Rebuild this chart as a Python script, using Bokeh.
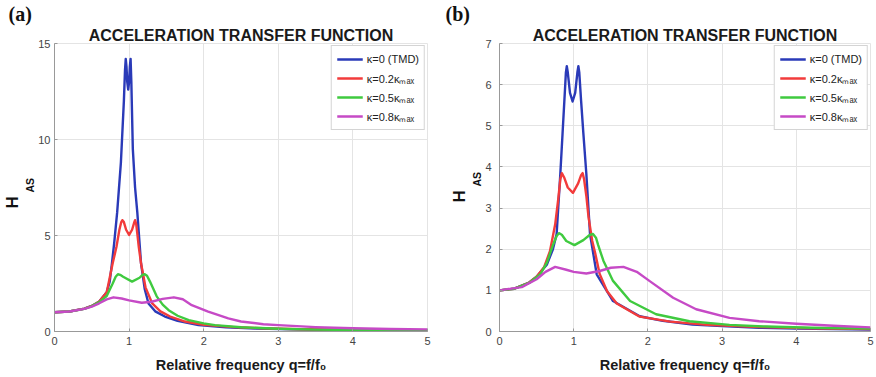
from bokeh.plotting import figure
from bokeh.models import Title, Legend, LegendItem, Range1d, FixedTicker
from bokeh.layouts import row
from bokeh.embed import file_html
from bokeh.resources import INLINE

# ---------------- data ----------------
x_ticks = [0, 1, 2, 3, 4, 5]
yticks_a = [0, 5, 10, 15]
yticks_b = [0, 1, 2, 3, 4, 5, 6, 7]
labels = ["κ=0 (TMD)", "κ=0.2κₘₐₓ", "κ=0.5κₘₐₓ", "κ=0.8κₘₐₓ"]

# Panel (a)
qa_k0 = [0, 0.2, 0.4, 0.5, 0.6, 0.7, 0.74, 0.77, 0.8, 0.84, 0.89, 0.93, 0.945, 0.955, 0.965, 0.975, 0.988,
         1.0, 1.01, 1.02, 1.03, 1.05, 1.08, 1.11, 1.16, 1.21, 1.26, 1.35, 1.48, 1.65, 1.93, 2.3, 2.7,
         3.2, 3.8, 4.4, 5.0]
ha_k0 = [1.0, 1.04, 1.19, 1.33, 1.56, 2.05, 2.6, 3.55, 4.6, 6.2, 8.8, 12.0, 13.6, 14.2, 13.8, 13.0, 12.6,
         13.0, 13.8, 14.2, 13.0, 9.5, 7.5, 6.2, 3.55, 2.2, 1.46, 1.05, 0.78, 0.55, 0.33, 0.22, 0.16,
         0.11, 0.08, 0.06, 0.05]

qa_k2 = [0, 0.2, 0.4, 0.5, 0.6, 0.7, 0.78, 0.83, 0.87, 0.895, 0.91, 0.93, 0.96, 1.0, 1.04, 1.07, 1.08,
         1.095, 1.11, 1.13, 1.16, 1.22, 1.31, 1.42, 1.55, 1.75, 2.0, 2.4, 2.8, 3.3, 3.9, 4.5, 5.0]
ha_k2 = [1.0, 1.04, 1.19, 1.33, 1.56, 2.05, 3.55, 4.4, 5.3, 5.7, 5.8, 5.7, 5.3, 5.03, 5.3, 5.7, 5.8,
         5.6, 5.1, 4.4, 3.55, 2.3, 1.46, 1.05, 0.78, 0.52, 0.35, 0.23, 0.17, 0.12, 0.09, 0.07, 0.06]

qa_k5 = [0, 0.2, 0.4, 0.5, 0.6, 0.7, 0.78, 0.82, 0.85, 0.88, 0.92, 1.04, 1.14, 1.18, 1.21, 1.24, 1.28,
         1.37, 1.45, 1.53, 1.65, 1.8, 2.0, 2.15, 2.5, 3.0, 3.5, 4.0, 4.5, 5.0]
ha_k5 = [1.0, 1.04, 1.18, 1.32, 1.53, 1.85, 2.5, 2.85, 2.98, 2.95, 2.85, 2.6, 2.8, 2.95, 2.98, 2.9, 2.6,
         1.83, 1.4, 1.11, 0.82, 0.59, 0.42, 0.33, 0.22, 0.14, 0.1, 0.08, 0.07, 0.06]

qa_k8 = [0, 0.2, 0.4, 0.5, 0.6, 0.7, 0.79, 0.9, 1.0, 1.17, 1.3, 1.45, 1.6, 1.72, 1.84, 2.06,
         2.33, 2.5, 2.8, 3.0, 3.5, 4.0, 4.5, 5.0]
ha_k8 = [1.0, 1.04, 1.18, 1.3, 1.47, 1.67, 1.78, 1.72, 1.62, 1.5, 1.55, 1.7, 1.78, 1.68, 1.37, 1.04,
         0.68, 0.52, 0.38, 0.33, 0.23, 0.17, 0.13, 0.11]

# Panel (b)
qb_k0 = [0, 0.2, 0.4, 0.5, 0.64, 0.72, 0.77, 0.82, 0.85, 0.88, 0.895, 0.907, 0.92, 0.95, 0.985, 1.02,
         1.05, 1.063, 1.075, 1.1, 1.13, 1.17, 1.22, 1.31, 1.53, 1.89, 2.2, 2.6, 3.0, 3.5, 4.0, 4.5, 5.0]
hb_k0 = [1.0, 1.04, 1.19, 1.33, 1.63, 2.0, 2.37, 3.84, 4.82, 5.8, 6.3, 6.45, 6.3, 5.8, 5.59, 5.8,
         6.3, 6.45, 6.3, 5.6, 4.82, 3.84, 2.37, 1.39, 0.74, 0.37, 0.26, 0.17, 0.13, 0.09, 0.07, 0.06, 0.05]

qb_k2 = [0, 0.2, 0.4, 0.5, 0.6, 0.68, 0.75, 0.79, 0.82, 0.84, 0.87, 0.92, 0.99, 1.06, 1.1, 1.12, 1.14,
         1.17, 1.2, 1.25, 1.29, 1.35, 1.45, 1.58, 1.89, 2.3, 2.8, 3.5, 4.2, 5.0]
hb_k2 = [1.0, 1.04, 1.19, 1.33, 1.56, 1.95, 2.6, 3.19, 3.7, 3.85, 3.75, 3.5, 3.37, 3.6, 3.8, 3.85, 3.7,
         3.3, 2.78, 2.2, 1.9, 1.4, 0.98, 0.68, 0.36, 0.24, 0.16, 0.11, 0.08, 0.06]

qb_k5 = [0, 0.2, 0.4, 0.55, 0.64, 0.72, 0.77, 0.8, 0.84, 0.9, 1.01, 1.13, 1.21, 1.26, 1.3, 1.33, 1.4,
         1.53, 1.76, 2.11, 2.56, 3.1, 3.6, 4.2, 5.0]
hb_k5 = [1.0, 1.04, 1.18, 1.39, 1.68, 2.1, 2.32, 2.39, 2.35, 2.2, 2.1, 2.22, 2.34, 2.37, 2.28, 2.1, 1.72,
         1.23, 0.74, 0.42, 0.25, 0.16, 0.12, 0.09, 0.07]

qb_k8 = [0, 0.3, 0.5, 0.62, 0.75, 0.9, 1.0, 1.17, 1.35, 1.5, 1.67, 1.85, 2.02, 2.34, 2.65, 3.1,
         3.5, 4.0, 4.5, 5.0]
hb_k8 = [1.0, 1.08, 1.27, 1.45, 1.57, 1.5, 1.45, 1.41, 1.47, 1.55, 1.57, 1.45, 1.23, 0.82, 0.54, 0.33,
         0.25, 0.19, 0.14, 0.1]

colors = ["#2a3ab8", "#f23b3b", "#3fca3f", "#c64ac6"]
FONT = "Liberation Sans"
H = 375


def make_panel(tag, ymax, yticks, series, width, bl, br, tag_x, ylab_standoff, h_off, as_off):
    p = figure(width=width, height=H, x_range=Range1d(0, 5), y_range=Range1d(0, ymax),
               output_backend="svg", toolbar_location=None,
               min_border_left=bl, min_border_right=br, min_border_top=10, min_border_bottom=30,
               title=tag)
    # panel tag "(a)" / "(b)" (outermost title)
    p.title.align = "left"
    p.title.offset = -(bl - tag_x)
    p.title.text_font = "Liberation Serif"
    p.title.text_font_size = "20px"
    p.title.text_font_style = "bold"
    p.title.text_color = "#111111"
    p.title.standoff = 0
    p.add_layout(Title(text="ACCELERATION TRANSFER FUNCTION", align="center", text_font=FONT,
                       text_font_size="16px", text_font_style="bold", text_color="#1a1a1a",
                       standoff=0), "above")

    p.xaxis.ticker = FixedTicker(ticks=x_ticks)
    p.yaxis.ticker = FixedTicker(ticks=yticks)
    p.xaxis.axis_label = "Relative frequency q=f/f₀"
    p.xaxis.axis_label_text_font = FONT
    p.xaxis.axis_label_text_font_size = "14.5px"
    p.xaxis.axis_label_text_font_style = "bold"
    p.xaxis.axis_label_text_color = "#1a1a1a"
    p.xaxis.axis_label_standoff = 9
    for ax in (p.xaxis, p.yaxis):
        ax.major_label_text_font = FONT
        ax.major_label_text_font_size = "11px"
        ax.major_label_text_color = "#444444"
        ax.axis_line_color = "#999999"
        ax.major_tick_line_color = "#999999"
        ax.major_tick_out = 0
        ax.major_tick_in = 3
        ax.minor_tick_line_color = None
    p.xaxis.major_label_standoff = 5
    p.yaxis.major_label_standoff = ylab_standoff
    p.grid.grid_line_color = "#e4e4e4"
    p.outline_line_color = "#e4e4e4"

    # y-axis label H with subscript AS, as two rotated titles on the left
    p.add_layout(Title(text="AS", align="left", offset=as_off, text_font=FONT,
                       text_font_size="10.5px", text_font_style="bold", text_color="#111111",
                       standoff=0), "left")
    p.add_layout(Title(text="H", align="left", offset=h_off, text_font=FONT,
                       text_font_size="17px", text_font_style="bold", text_color="#111111",
                       standoff=0), "left")

    items = []
    for (qs, hs), c, lab in zip(series, colors, labels):
        r = p.line(qs, hs, line_color=c, line_width=2.4, line_join="round")
        items.append(LegendItem(label=lab, renderers=[r]))
    leg = Legend(items=items, location="top_right", margin=2, padding=5, spacing=3,
                 label_text_font=FONT, label_text_font_size="11px", label_text_color="#222222",
                 glyph_width=26, glyph_height=16, label_height=16, label_standoff=4,
                 border_line_color="#aaaaaa", background_fill_alpha=1.0)
    p.add_layout(leg)
    return p


pa = make_panel("(a)", 15, yticks_a,
                [(qa_k0, ha_k0), (qa_k2, ha_k2), (qa_k5, ha_k5), (qa_k8, ha_k8)],
                436, 52, 9, 6, 4, 123, 139)
pb = make_panel("(b)", 7, yticks_b,
                [(qb_k0, hb_k0), (qb_k2, hb_k2), (qb_k5, hb_k5), (qb_k8, hb_k8)],
                438, 63, 4, 9, 8, 129, 145)

layout = row(pa, pb)
open("out.html", "w").write(file_html(layout, INLINE))
